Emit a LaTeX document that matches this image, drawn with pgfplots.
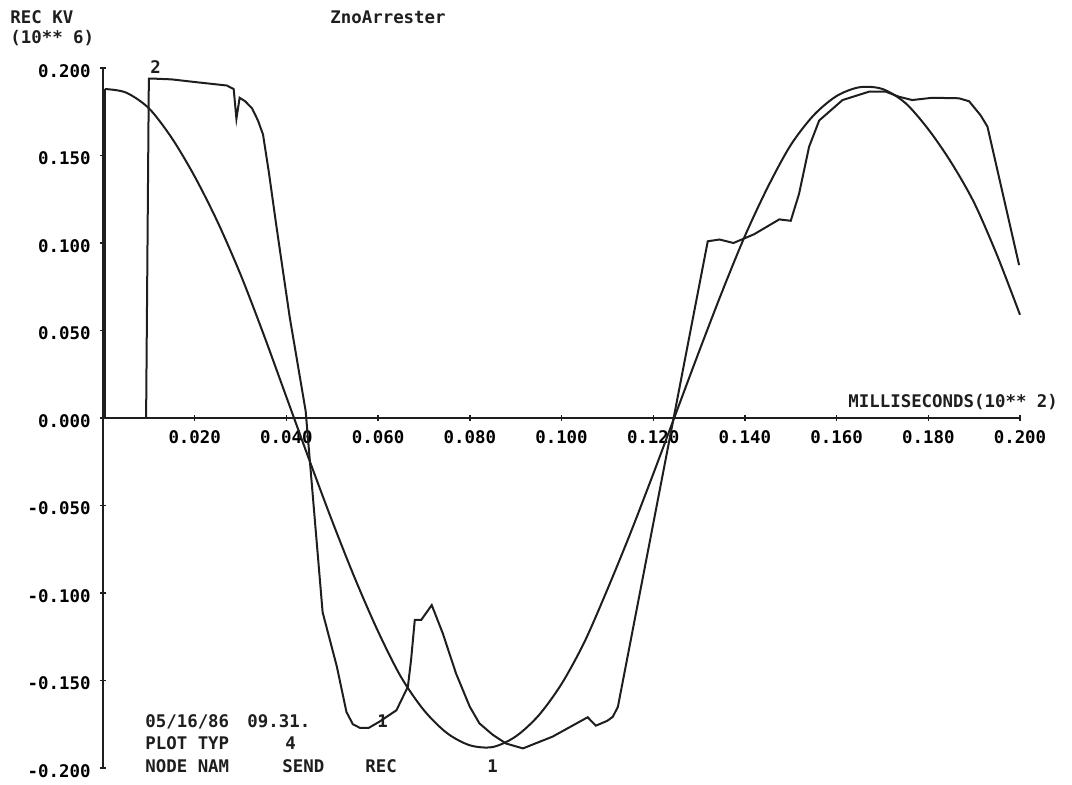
\documentclass[border=0pt]{standalone}
\usepackage{pgfplots}
\pgfplotsset{compat=1.18}
\usepackage{fontspec}
\setmainfont{DejaVu Sans Mono}
\newcommand\pf{\fontsize{8.7pt}{10pt}\selectfont\bfseries}
\definecolor{ink}{HTML}{1E1E1E}

\begin{document}
\begin{tikzpicture}
% page = 1072 x 784 px at 0.5pt per px
\path[use as bounding box] (0pt,0pt) rectangle (536pt,-392pt);

\begin{axis}[
  at={(51.5pt,-384pt)}, anchor=south west,
  width=458.5pt, height=350pt, scale only axis,
  xmin=0, xmax=0.2, ymin=-0.2, ymax=0.2,
  axis x line=middle, axis y line=left,
  axis line style={-, line width=0.8pt, ink},
  xtick={0.02,0.04,0.06,0.08,0.1,0.12,0.14,0.16,0.18,0.2},
  xticklabels={0.020,0.040,0.060,0.080,0.100,0.120,0.140,0.160,0.180,0.200},
  ytick={-0.2,-0.15,-0.1,-0.05,0,0.05,0.1,0.15,0.2},
  yticklabels={-0.200,-0.150,-0.100,-0.050,0.000,0.050,0.100,0.150,0.200},
  tick align=center, major tick length=3pt,
  tick style={line width=0.7pt, ink},
  xticklabel style={font=\pf, anchor=north, inner sep=0pt, yshift=-4.5pt},
  yticklabel style={font=\pf, anchor=east, inner sep=0pt, xshift=-4.5pt, yshift=-1.5pt},
  clip=false,
]
% curve 1 (SEND): jump at t=0, then a smooth sine
\addplot[ink, line width=1pt] coordinates {(0.0004,0) (0.0004,0.188)};
\addplot[ink, line width=1pt, smooth, tension=0.5] coordinates {
(0.0004,0.188) (0.005,0.186) (0.010,0.177) (0.015,0.160)
(0.020,0.138) (0.025,0.112) (0.030,0.082) (0.035,0.048) (0.040,0.012)
(0.045,-0.024) (0.050,-0.059) (0.055,-0.092) (0.060,-0.122) (0.065,-0.148)
(0.070,-0.167) (0.075,-0.180) (0.080,-0.187) (0.085,-0.188) (0.090,-0.182)
(0.095,-0.170) (0.100,-0.152) (0.105,-0.128) (0.110,-0.098) (0.115,-0.066)
(0.120,-0.032) (0.125,0.003) (0.130,0.038) (0.135,0.072) (0.140,0.104)
(0.145,0.132) (0.150,0.156) (0.155,0.173) (0.160,0.184) (0.165,0.189)
(0.170,0.188) (0.175,0.180) (0.180,0.165) (0.185,0.146) (0.190,0.123)
(0.195,0.093) (0.200,0.059)
};
% curve 2 (REC)
\addplot[ink, line width=1pt] coordinates {
(0.0094,0) (0.0100,0.194) (0.0105,0.194) (0.015,0.1935) (0.020,0.192)
(0.0270,0.190) (0.0285,0.188) (0.0291,0.171) (0.0298,0.183) (0.0310,0.181)
(0.0325,0.177) (0.0338,0.170) (0.0349,0.162) (0.0362,0.140) (0.0378,0.110)
(0.0407,0.058) (0.0442,0.004) (0.0479,-0.111)
(0.0490,-0.122) (0.0510,-0.142) (0.0531,-0.168) (0.0545,-0.175) (0.0560,-0.177)
(0.0580,-0.177) (0.0603,-0.1735) (0.0640,-0.167) (0.0665,-0.1535) (0.0672,-0.138)
(0.0680,-0.1154) (0.0694,-0.1154) (0.0717,-0.1069) (0.0741,-0.123) (0.0770,-0.146)
(0.0800,-0.165) (0.0821,-0.1745) (0.0850,-0.181) (0.0879,-0.186) (0.0916,-0.1888)
(0.0981,-0.182) (0.1057,-0.171) (0.1075,-0.1758) (0.1100,-0.173) (0.1112,-0.1707)
(0.1123,-0.165) (0.1319,0.101) (0.1345,0.102) (0.1375,0.100) (0.1420,0.105)
(0.1475,0.1135) (0.1500,0.1127) (0.1518,0.128) (0.1540,0.155) (0.1562,0.170)
(0.1613,0.1817) (0.1671,0.1865) (0.1707,0.1865) (0.1736,0.1836) (0.1765,0.1817)
(0.1809,0.183) (0.1867,0.1827) (0.1889,0.181) (0.1914,0.173) (0.1929,0.1665)
(0.1998,0.0874)
};
\end{axis}

\begin{scope}[x=0.5pt, y=-0.5pt, every node/.style={font=\pf, text=ink, inner sep=0pt, anchor=base west}]
\node at (10,23) {REC KV};
\node at (10,43) {(10** 6)};
\node at (330,23) {ZnoArrester};
\node at (848,407) {MILLISECONDS(10** 2)};
\node at (150,73) {2};
\node at (377,727) {1};
\node at (487,772) {1};
\node at (145,727) {05/16/86};
\node at (247,727) {09.31.};
\node at (145,749) {PLOT TYP};
\node at (285,749) {4};
\node at (145,772) {NODE NAM};
\node at (282,772) {SEND};
\node at (365,772) {REC};
\end{scope}
\end{tikzpicture}
\end{document}
